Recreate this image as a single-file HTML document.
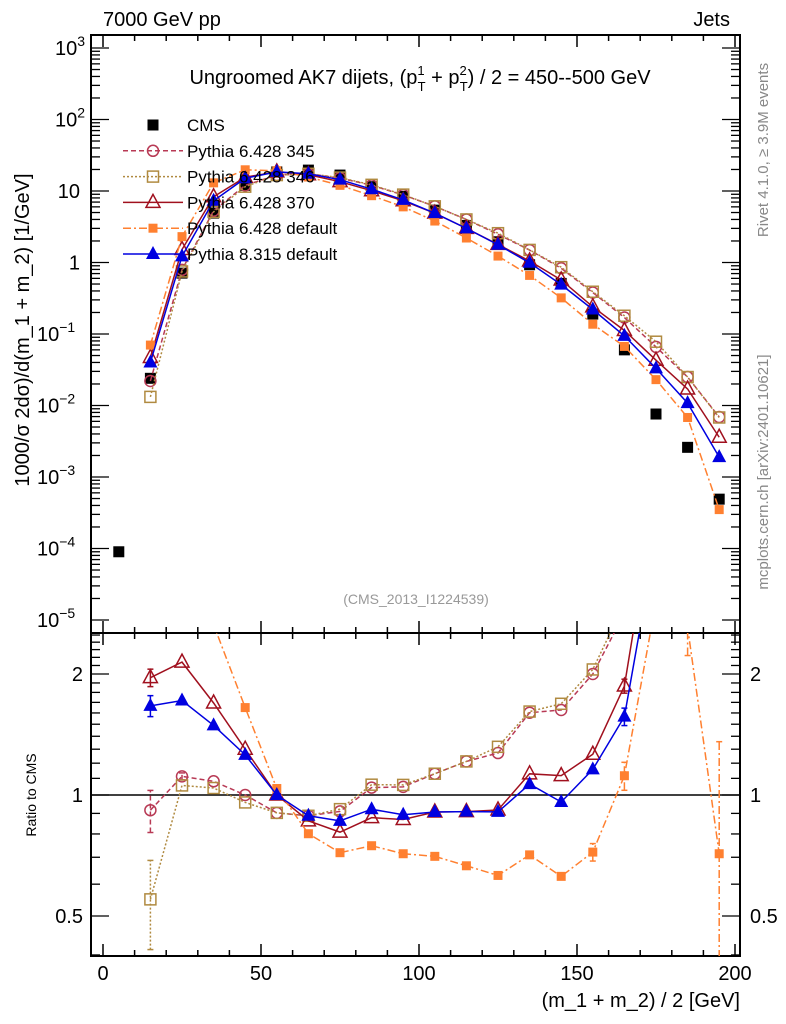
<!DOCTYPE html>
<html><head><meta charset="utf-8"><style>
html,body{margin:0;padding:0;background:#fff;width:786px;height:1024px;overflow:hidden;position:relative;}
svg{font-family:"Liberation Sans",Arial,sans-serif;display:block;}
</style></head><body>
<svg id="c" width="786" height="1024" viewBox="0 0 786 1024" xmlns="http://www.w3.org/2000/svg" style="position:absolute;left:0;top:0;overflow:hidden;">
<defs>
<clipPath id="clipMain"><rect x="91" y="35" width="649" height="598"/></clipPath>
<clipPath id="clipRatio"><rect x="91" y="633" width="649" height="323"/></clipPath>
</defs>
<g id="axes"></g>
<g id="marks"></g>
<g id="texts">
<text x="103" y="26" font-size="20">7000 GeV pp</text>
<text x="730" y="26" font-size="20" text-anchor="end">Jets</text>
<text x="420" y="84" font-size="20" text-anchor="middle">Ungroomed AK7 dijets, (p<tspan font-size="13" dy="-9">1</tspan><tspan font-size="13" dx="-7" dy="16">T</tspan><tspan dy="-7"> + p</tspan><tspan font-size="13" dy="-9">2</tspan><tspan font-size="13" dx="-7" dy="16">T</tspan><tspan dy="-7">) / 2 = 450--500 GeV</tspan></text>
<text x="416" y="604" font-size="14" fill="#999" text-anchor="middle">(CMS_2013_I1224539)</text>
<text x="740" y="1007" font-size="20" text-anchor="end">(m_1 + m_2) / 2 [GeV]</text>
<text transform="translate(29,330) rotate(-90)" font-size="20" text-anchor="middle">1000/σ   2dσ)/d(m_1 + m_2) [1/GeV]</text>
<text transform="translate(36,795) rotate(-90)" font-size="14" text-anchor="middle">Ratio to CMS</text>
<text transform="translate(768,150) rotate(-90)" font-size="15" fill="#888" text-anchor="middle">Rivet 4.1.0, ≥ 3.9M events</text>
<text transform="translate(768,472) rotate(-90)" font-size="15" fill="#888" text-anchor="middle">mcplots.cern.ch [arXiv:2401.10621]</text>
</g>
</svg>
<script>
const xCenters=[15,25,35,45,55,65,75,85,95,105,115,125,135,145,155,165,175,185,195];
const cmsX=[5,15,25,35,45,55,65,75,85,95,105,115,125,135,145,155,165,175,185,195];
const cmsVals=[9e-5,0.024,0.71,4.9,12,18.5,19.6,16.7,11.5,8.4,5.4,3.3,1.95,0.93,0.51,0.19,0.06,0.0076,0.0026,0.00049];
const p345=[0.022,0.79,5.3,12,16.7,17.4,15.2,12,8.8,6.1,4.0,2.48,1.49,0.83,0.38,0.17,0.066,0.025,0.0069];
const p346=[0.0132,0.75,5.1,11.5,16.7,17.4,15.4,12.2,8.9,6.1,4.0,2.57,1.5,0.86,0.39,0.18,0.078,0.025,0.0068];
const p370=[0.047,1.52,8.3,15.6,18.5,16.9,13.5,10.1,7.3,4.9,3.0,1.79,1.05,0.57,0.24,0.112,0.043,0.017,0.0036];
const p6def=[0.07,2.3,13,19.8,19.2,15.7,12,8.6,6.0,3.8,2.2,1.23,0.66,0.32,0.137,0.067,0.023,0.0068,0.00035];
const p8def=[0.040,1.22,7.3,15.1,18.5,17.4,14.4,10.6,7.5,4.9,3.0,1.77,0.99,0.49,0.22,0.094,0.033,0.0108,0.0019];
const err345=[0.12,0.02,0,0,0,0,0,0,0,0,0,0,0,0,0,0,0,0,0];
const err346=[0.25,0,0,0,0,0,0,0,0,0,0,0,0,0,0,0,0,0,0];
const err370=[0.05,0,0,0,0,0,0,0,0,0,0,0,0,0,0,0.04,0,0,0.1];
const err6def=[0,0,0,0,0,0,0,0,0,0,0,0,0,0,0.05,0.08,0,0.15,0.9];
const err8def=[0.06,0,0,0,0,0,0,0,0,0,0,0,0,0,0,0.05,0,0.1,0.25];
const xTicks=[0,50,100,150,200];
const ratioTicks=[0.5,1,2];

const NS="http://www.w3.org/2000/svg";
const X=v=>103+v*3.16;
const YM=v=>48+71.5*(3-Math.log10(v));
const YRraw=r=>795-121*Math.log2(r);
const YR=r=>Math.max(600,Math.min(990,YRraw(r)));
function el(t,a,p){const e=document.createElementNS(NS,t);for(const k in a)e.setAttribute(k,a[k]);(p||document.getElementById('marks')).appendChild(e);return e;}
const ax=document.getElementById('axes'),tx=document.getElementById('texts');

let f=el('rect',{x:91,y:35,width:649,height:598,fill:'none',stroke:'#000','stroke-width':2},ax);


f=el('rect',{x:91,y:633,width:649,height:323,fill:'none',stroke:'#000','stroke-width':2},ax);


for(let v=0;v<=200;v+=10){const maj=v%50===0;const L=maj?12:6;
 for(const [yb,yt] of [[633,35],[956,633]]){
  el('line',{x1:X(v),x2:X(v),y1:yb,y2:yb-L,stroke:'#000','stroke-width':1.5},ax);
  el('line',{x1:X(v),x2:X(v),y1:yt,y2:yt+L,stroke:'#000','stroke-width':1.5},ax);}}
xTicks.forEach(v=>{const t=el('text',{x:X(v),y:980,'font-size':20,'text-anchor':'middle'},tx);t.textContent=v;
 
 });
for(let d=-5;d<=3;d++){for(let m=1;m<=9;m++){const v=m*Math.pow(10,d);if(d===3&&m>1)break;const y=YM(v);if(y<35||y>633)continue;
 const L=m===1?18:9;el('line',{x1:91,x2:91+L,y1:y,y2:y,stroke:'#000','stroke-width':1.3},ax);el('line',{x1:740,x2:740-L,y1:y,y2:y,stroke:'#000','stroke-width':1.3},ax);}
 const t=el('text',{x:80,y:YM(Math.pow(10,d))+7,'font-size':20,'text-anchor':'end'},tx);
 
 
 if(d===0)t.textContent='1';else if(d===1)t.textContent='10';
 else{t.textContent='10';const s=document.createElementNS(NS,'tspan');s.setAttribute('dy','-9');s.setAttribute('font-size','14');s.textContent=String(d).replace('-','\u2212');t.appendChild(s);t.setAttribute('text-anchor','start');t.setAttribute('x',d<0?37:55);}
}
for(let i=4;i<=25;i++){const r=i/10;const y=YRraw(r);if(y<633||y>956)continue;const maj=[5,10,20].includes(i);const L=maj?18:9;
 el('line',{x1:91,x2:91+L,y1:y,y2:y,stroke:'#000','stroke-width':1.3},ax);el('line',{x1:740,x2:740-L,y1:y,y2:y,stroke:'#000','stroke-width':1.3},ax);}
ratioTicks.forEach(r=>{for(const [x,a] of [[83,'end'],[750,'start']]){const t=el('text',{x:x,y:YRraw(r)+7,'font-size':20,'text-anchor':a},tx);t.textContent=r;
 
 }});
el('line',{x1:91,x2:740,y1:YRraw(1),y2:YRraw(1),stroke:'#000','stroke-width':1.5},ax);

const series=[
 {name:'pythia-6428-345',vals:p345,err:err345,col:'#b83a55',dash:'5,3',mk:'circle'},
 {name:'pythia-6428-346',vals:p346,err:err346,col:'#b08a40',dash:'2,2',mk:'square-open'},
 {name:'pythia-6428-370',vals:p370,err:err370,col:'#a0101e',dash:'',mk:'tri-open'},
 {name:'pythia-6428-default',vals:p6def,err:err6def,col:'#ff8030',dash:'8,3,2,3',mk:'square-fill'},
 {name:'pythia-8315-default',vals:p8def,err:err8def,col:'#0000e0',dash:'',mk:'tri-fill'}];
function marker(mk,x,y,col,g){let e;
 if(mk==='circle')e=el('circle',{cx:x,cy:y,r:5.5,fill:'none',stroke:col,'stroke-width':1.5},g);
 else if(mk==='square-open')e=el('rect',{x:x-5.5,y:y-5.5,width:11,height:11,fill:'none',stroke:col,'stroke-width':1.5},g);
 else if(mk==='square-fill')e=el('rect',{x:x-4.5,y:y-4.5,width:9,height:9,fill:col},g);
 else if(mk==='tri-open')e=el('polygon',{points:`${x},${y-8} ${x-7},${y+5} ${x+7},${y+5}`,fill:'none',stroke:col,'stroke-width':1.5},g);
 else if(mk==='tri-fill')e=el('polygon',{points:`${x},${y-8} ${x-7},${y+5} ${x+7},${y+5}`,fill:col},g);
 else e=el('rect',{x:x-5.5,y:y-5.5,width:11,height:11,fill:'#000'},g);
 return e;}
const gm=el('g',{'clip-path':'url(#clipMain)'});
const gr=el('g',{'clip-path':'url(#clipRatio)'});
cmsX.forEach((xv,i)=>{const m=marker('cms',X(xv),YM(cmsVals[i]),'#000',gm);
 
 });
series.forEach(s=>{
 const pm=xCenters.map((xv,i)=>X(xv)+','+YM(s.vals[i])).join(' ');
 const l=el('polyline',{points:pm,fill:'none',stroke:s.col,'stroke-width':1.5,'stroke-dasharray':s.dash},gm);
 
 
 const pr=xCenters.map((xv,i)=>X(xv)+','+YRraw(s.vals[i]/cmsVals[cmsX.indexOf(xv)])).join(' ');
 const l2=el('polyline',{points:pr,fill:'none',stroke:s.col,'stroke-width':1.5,'stroke-dasharray':s.dash},gr);
 
 
 xCenters.forEach((xv,i)=>{const x=X(xv);const r=s.vals[i]/cmsVals[cmsX.indexOf(xv)];
  if(s.err[i]>0){const lo=Math.max(r*(1-s.err[i]),0.01),hi=r*(1+s.err[i]);
   el('line',{x1:x,x2:x,y1:YR(lo),y2:YR(hi),stroke:s.col,'stroke-width':1.5,'stroke-dasharray':s.dash},gr);
   el('line',{x1:x-3,x2:x+3,y1:YR(lo),y2:YR(lo),stroke:s.col,'stroke-width':1.5},gr);
   el('line',{x1:x-3,x2:x+3,y1:YR(hi),y2:YR(hi),stroke:s.col,'stroke-width':1.5},gr);}
  const m1=marker(s.mk,x,YM(s.vals[i]),s.col,gm);
  
  
  const m2=marker(s.mk,x,YR(r),s.col,gr);
  
  });
});
const lg=el('g',{},tx);


const labels=['CMS','Pythia 6.428 345','Pythia 6.428 346','Pythia 6.428 370','Pythia 6.428 default','Pythia 8.315 default'];
labels.forEach((lab,i)=>{const y=125+i*25.8;const g=el('g',{},lg);
 
 
 if(i===0)marker('cms',153,y,'#000',g);else{const s=series[i-1];el('line',{x1:123,x2:183,y1:y,y2:y,stroke:s.col,'stroke-width':1.5,'stroke-dasharray':s.dash},g);marker(s.mk,153,y,s.col,g);}
 const t=el('text',{x:187,y:y+6,'font-size':17},g);t.textContent=lab;});
</script>
</body></html>
